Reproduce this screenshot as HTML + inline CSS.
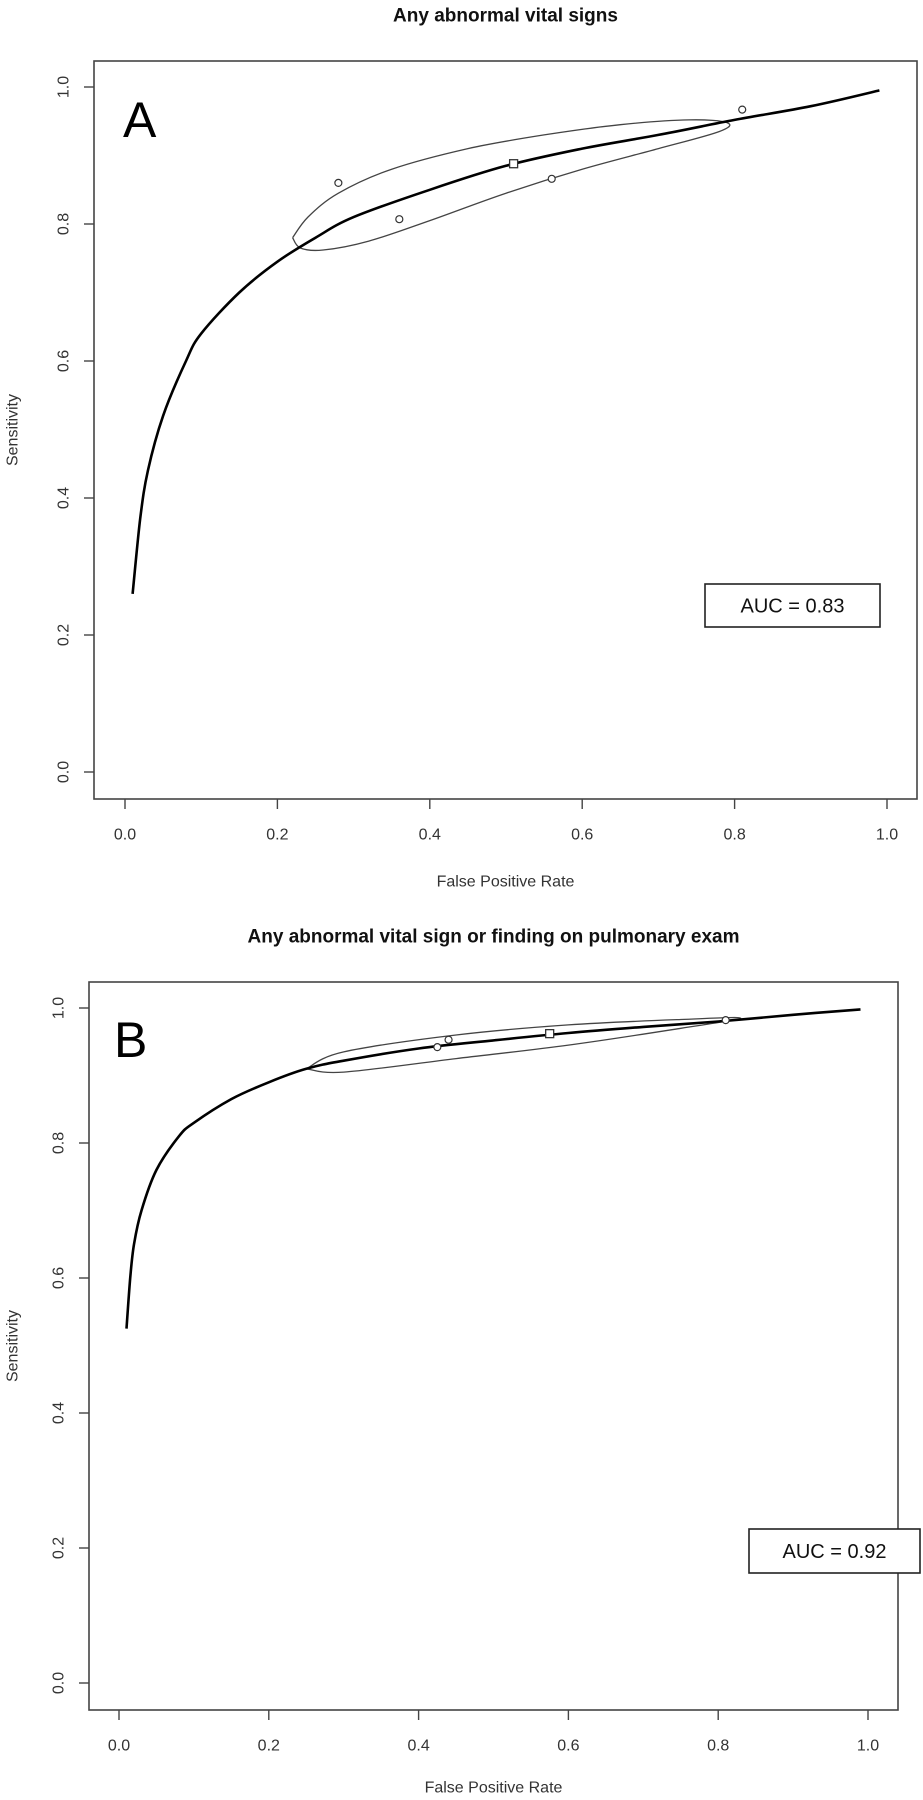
<!DOCTYPE html>
<html><head><meta charset="utf-8"><style>
body{margin:0;background:#fff;}
svg{display:block;font-family:"Liberation Sans",Arial,sans-serif;}
</style></head><body>
<svg id="fig" width="923" height="1800" viewBox="0 0 923 1800" xmlns="http://www.w3.org/2000/svg"></svg>
<script>
const xTicks = [0.0, 0.2, 0.4, 0.6, 0.8, 1.0];
const yTicks = [0.0, 0.2, 0.4, 0.6, 0.8, 1.0];
const tickLabels = ["0.0", "0.2", "0.4", "0.6", "0.8", "1.0"];

const curveAx = [0.01,0.02,0.03,0.05,0.08,0.1,0.15,0.2,0.25,0.3,0.4,0.5,0.6,0.7,0.8,0.9,0.99];
const curveAy = [0.26,0.37,0.44,0.52,0.6,0.64,0.7,0.745,0.78,0.81,0.85,0.885,0.91,0.93,0.952,0.972,0.995];
const ellipseAx = [0.22,0.24,0.28,0.35,0.45,0.55,0.65,0.74,0.79,0.78,0.7,0.6,0.5,0.4,0.32,0.26,0.23,0.22];
const ellipseAy = [0.78,0.81,0.845,0.88,0.91,0.93,0.945,0.952,0.948,0.935,0.91,0.88,0.845,0.805,0.775,0.762,0.765,0.78];
const studiesAx = [0.28,0.36,0.56,0.81];
const studiesAy = [0.86,0.807,0.866,0.967];
const summaryAx = [0.51];
const summaryAy = [0.888];

const curveBx = [0.01,0.015,0.02,0.03,0.05,0.08,0.1,0.15,0.2,0.25,0.3,0.4,0.5,0.6,0.7,0.8,0.9,0.99];
const curveBy = [0.525,0.6,0.65,0.7,0.76,0.81,0.83,0.865,0.89,0.91,0.922,0.94,0.952,0.963,0.972,0.98,0.99,0.998];
const ellipseBx = [0.25,0.3,0.45,0.6,0.75,0.83,0.75,0.6,0.45,0.3,0.25];
const ellipseBy = [0.91,0.935,0.96,0.975,0.983,0.985,0.97,0.945,0.925,0.905,0.91];
const studiesBx = [0.425,0.44,0.81];
const studiesBy = [0.942,0.953,0.982];
const summaryBx = [0.575];
const summaryBy = [0.962];

const NS = "http://www.w3.org/2000/svg";
const svg = document.getElementById('fig');
function mk(tag, attrs, parent){
  const e = document.createElementNS(NS, tag);
  for (const k in attrs) e.setAttribute(k, attrs[k]);
  (parent||svg).appendChild(e);
  return e;
}
function smoothPath(pts){
  let d = 'M' + pts[0][0].toFixed(1) + ' ' + pts[0][1].toFixed(1);
  for (let i = 0; i < pts.length - 1; i++){
    const p0 = pts[Math.max(0,i-1)], p1 = pts[i], p2 = pts[i+1], p3 = pts[Math.min(pts.length-1,i+2)];
    const c1x = p1[0] + (p2[0]-p0[0])/6, c1y = p1[1] + (p2[1]-p0[1])/6;
    const c2x = p2[0] - (p3[0]-p1[0])/6, c2y = p2[1] - (p3[1]-p1[1])/6;
    d += ` C${c1x.toFixed(1)} ${c1y.toFixed(1)} ${c2x.toFixed(1)} ${c2y.toFixed(1)} ${p2[0].toFixed(1)} ${p2[1].toFixed(1)}`;
  }
  return d;
}

function panel(cfg){
  const g = mk('g', {});
  
  
  const sx = v => cfg.x0 + v*(cfg.x1 - cfg.x0);
  const sy = v => cfg.y0 + v*(cfg.y1 - cfg.y0);
  const box = mk('rect', {x:cfg.bl, y:cfg.bt, width:cfg.br-cfg.bl, height:cfg.bb-cfg.bt, fill:'none', stroke:'#444', 'stroke-width':1.6}, g);
  
  
  const t = mk('text', {x:(cfg.bl+cfg.br)/2, y:cfg.titleY, 'text-anchor':'middle', 'font-size':19, 'font-weight':'bold', fill:'#111', 'dominant-baseline':'central'}, g);
  t.textContent = cfg.title;
  
  
  xTicks.forEach((v,i)=>{
    const l = mk('line', {x1:sx(v), x2:sx(v), y1:cfg.bb, y2:cfg.bb+10, stroke:'#444', 'stroke-width':1.4}, g);
    
    
    const tx = mk('text', {x:sx(v), y:cfg.bb+36, 'text-anchor':'middle', 'font-size':16, fill:'#333', 'dominant-baseline':'central'}, g);
    tx.textContent = tickLabels[i];
    
    
  });
  yTicks.forEach((v,i)=>{
    const l = mk('line', {x1:cfg.bl-10, x2:cfg.bl, y1:sy(v), y2:sy(v), stroke:'#444', 'stroke-width':1.4}, g);
    
    
    const tx = mk('text', {x:cfg.bl-30, y:sy(v), 'text-anchor':'middle', 'font-size':16, fill:'#333', 'dominant-baseline':'central', transform:`rotate(-90 ${cfg.bl-30} ${sy(v)})`}, g);
    tx.textContent = tickLabels[i];
    
    
  });
  const xt = mk('text', {x:(cfg.bl+cfg.br)/2, y:cfg.xTitleY, 'text-anchor':'middle', 'font-size':16, fill:'#333', 'dominant-baseline':'central'}, g);
  xt.textContent = 'False Positive Rate';
  
  
  const yc = (cfg.bt+cfg.bb)/2;
  const yt = mk('text', {x:13, y:yc, 'text-anchor':'middle', 'font-size':16, fill:'#333', 'dominant-baseline':'central', transform:`rotate(-90 13 ${yc})`}, g);
  yt.textContent = 'Sensitivity';
  
  
  const lab = mk('text', {x:cfg.labX, y:cfg.labY, 'font-size':50, fill:'#000'}, g);
  lab.textContent = cfg.letter;
  
  
  const ePts = cfg.ex.map((v,i)=>[sx(v), sy(cfg.ey[i])]);
  const el = mk('path', {d:smoothPath(ePts), fill:'none', stroke:'#444', 'stroke-width':1.3, 'stroke-linejoin':'round'}, g);
  
  
  const cPts = cfg.cx.map((v,i)=>[sx(v), sy(cfg.cy[i])]);
  const c = mk('path', {d:smoothPath(cPts), fill:'none', stroke:'#000', 'stroke-width':2.6, 'stroke-linejoin':'round'}, g);
  
  
  cfg.px.forEach((v,i)=>{
    const p = mk('circle', {cx:sx(v), cy:sy(cfg.py[i]), r:3.5, fill:'#fff', stroke:'#333', 'stroke-width':1.2}, g);
    
    
  });
  cfg.qx.forEach((v,i)=>{
    const q = mk('rect', {x:sx(v)-4, y:sy(cfg.qy[i])-4, width:8, height:8, fill:'#fff', stroke:'#333', 'stroke-width':1.3}, g);
    
    
  });
  const ab = mk('rect', {x:cfg.auc[0], y:cfg.auc[1], width:cfg.auc[2]-cfg.auc[0], height:cfg.auc[3]-cfg.auc[1], fill:'#fff', stroke:'#222', 'stroke-width':1.6}, g);
  
  
  const at = mk('text', {x:(cfg.auc[0]+cfg.auc[2])/2, y:(cfg.auc[1]+cfg.auc[3])/2+1, 'text-anchor':'middle', 'font-size':20, fill:'#111', 'dominant-baseline':'central'}, g);
  at.textContent = cfg.aucText;
  
  
}

panel({name:'panel-a', letter:'A', title:'Any abnormal vital signs', titleY:16, xTitleY:882,
  bl:94, br:917, bt:61, bb:799, x0:125, x1:887, y0:772, y1:87, labX:123, labY:137,
  cx:curveAx, cy:curveAy, ex:ellipseAx, ey:ellipseAy, px:studiesAx, py:studiesAy, qx:summaryAx, qy:summaryAy,
  auc:[705,584,880,627], aucText:'AUC = 0.83'});
panel({name:'panel-b', letter:'B', title:'Any abnormal vital sign or finding on pulmonary exam', titleY:937, xTitleY:1788,
  bl:89, br:898, bt:982, bb:1710, x0:119, x1:868, y0:1683, y1:1008, labX:114, labY:1057,
  cx:curveBx, cy:curveBy, ex:ellipseBx, ey:ellipseBy, px:studiesBx, py:studiesBy, qx:summaryBx, qy:summaryBy,
  auc:[749,1529,920,1573], aucText:'AUC = 0.92'});
</script>
</body></html>
